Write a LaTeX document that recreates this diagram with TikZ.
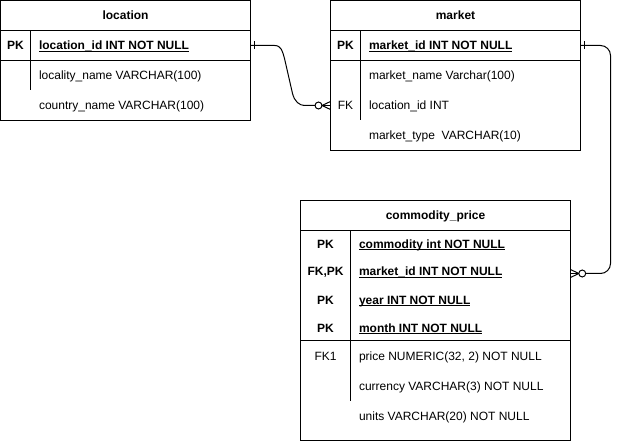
\documentclass[tikz,border=0pt]{standalone}
\usepackage{fontspec}
\setmainfont{Liberation Sans}
\newcommand\ulfld[1]{\setbox0\hbox{#1}\rlap{\rule[-1.6pt]{\wd0}{0.6pt}}\box0}
\begin{document}
\begin{tikzpicture}[x=0.75pt,y=-0.75pt,line width=0.75pt,
  every node/.style={font=\fontsize{9}{11}\selectfont},
  tbl/.style={draw,anchor=north west,inner sep=0pt,outer sep=0pt},
  hdr/.style={font=\fontsize{9}{11}\selectfont\bfseries,inner sep=0pt,anchor=base},
  keycol/.style={inner sep=0pt,anchor=base},
  keyb/.style={inner sep=0pt,anchor=base,font=\fontsize{9}{11}\selectfont\bfseries},
  fld/.style={inner sep=0pt,anchor=base west},
  fldb/.style={inner sep=0pt,anchor=base west,font=\fontsize{9}{11}\selectfont\bfseries},
  conn/.style={line width=0.75pt}]
\useasboundingbox (0,0) rectangle (620,441);
% ---------- location ----------
\node[tbl,minimum width=187.5pt,minimum height=90pt] (loc) at (0.5,0.5) {};
\draw (0.5,30.5) -- (250.5,30.5);
\draw (0.5,60.5) -- (250.5,60.5);
\draw (30.5,30.5) -- (30.5,90.5);
\node[hdr] (loch) at (125.5,20) {location};
\node[keyb] (lock1) at (15.5,50) {PK};
\node[fldb] (locf1) at (38.5,50) {\ulfld{location\_id INT NOT NULL}};
\node[fld] (locf2) at (38.5,80) {locality\_name VARCHAR(100)};
\node[fld] (locf3) at (38.5,110) {country\_name VARCHAR(100)};
% ---------- market ----------
\node[tbl,minimum width=187.5pt,minimum height=112.5pt] (mkt) at (330.5,0.5) {};
\draw (330.5,30.5) -- (580.5,30.5);
\draw (330.5,60.5) -- (580.5,60.5);
\draw (360.5,30.5) -- (360.5,120.5);
\node[hdr] (mkth) at (455.5,20) {market};
\node[keyb] (mktk1) at (345.5,50) {PK};
\node[fldb] (mktf1) at (368.5,50) {\ulfld{market\_id INT NOT NULL}};
\node[fld] (mktf2) at (368.5,80) {market\_name Varchar(100)};
\node[keycol] (mktk3) at (345.5,110) {FK};
\node[fld] (mktf3) at (368.5,110) {location\_id INT};
\node[fld] (mktf4) at (368.5,140) {market\_type\ \ VARCHAR(10)};
% ---------- commodity_price ----------
\node[tbl,minimum width=202.5pt,minimum height=180pt] (cp) at (300.5,200.5) {};
\draw (300.5,230.5) -- (570.5,230.5);
\draw (300.5,340.5) -- (570.5,340.5);
\draw (350.5,230.5) -- (350.5,400.5);
\node[hdr] (cph) at (435.5,220) {commodity\_price};
\node[keyb] (cpk1) at (325.5,248) {PK};
\node[fldb] (cpf1) at (358.5,248) {\ulfld{commodity int NOT NULL}};
\node[keyb] (cpk2) at (325.5,276) {FK,PK};
\node[fldb] (cpf2) at (358.5,276) {\ulfld{market\_id INT NOT NULL}};
\node[keyb] (cpk3) at (325.5,304) {PK};
\node[fldb] (cpf3) at (358.5,304) {\ulfld{year INT NOT NULL}};
\node[keyb] (cpk4) at (325.5,332) {PK};
\node[fldb] (cpf4) at (358.5,332) {\ulfld{month INT NOT NULL}};
\node[keycol] (cpk5) at (325.5,360) {FK1};
\node[fld] (cpf5) at (358.5,360) {price NUMERIC(32, 2) NOT NULL};
\node[fld] (cpf6) at (358.5,390) {currency VARCHAR(3) NOT NULL};
\node[fld] (cpf7) at (358.5,420) {units VARCHAR(20) NOT NULL};
% ---------- connector location -> market ----------
\coordinate (c1a) at (loc.east |- 0,45.5);
\coordinate (c1b) at (mkt.west |- 0,105.5);
\draw[conn] (c1a) -- ++(24,0) .. controls +(7,0) and +(-2,-7) .. ++(10,13) -- ++(8,35)
  .. controls +(2,8) and +(-5,0) .. ++(12,12) -- ++(10.5,0);
\draw[conn] ([xshift=3pt]c1a) ++(0,-4) -- ++(0,8);
\draw[conn] ([xshift=-9pt]c1b) circle (2.6pt);
\draw[conn] ([xshift=-6.4pt]c1b) -- ++(6.4pt,3pt);
\draw[conn] ([xshift=-6.4pt]c1b) -- (c1b);
\draw[conn] ([xshift=-6.4pt]c1b) -- ++(6.4pt,-3pt);
% ---------- connector market -> commodity_price ----------
\coordinate (c2a) at (mkt.east |- 0,45.5);
\coordinate (c2b) at (cp.east |- 0,273.5);
\draw[conn,rounded corners=7.5pt] (c2a) -- ++(30,0) |- ([xshift=11.5pt]c2b);
\draw[conn] ([xshift=3pt]c2a) ++(0,-4) -- ++(0,8);
\draw[conn] ([xshift=8.8pt]c2b) circle (2.6pt);
\draw[conn] ([xshift=6.2pt]c2b) -- ++(-6.2pt,3pt);
\draw[conn] ([xshift=6.2pt]c2b) -- (c2b);
\draw[conn] ([xshift=6.2pt]c2b) -- ++(-6.2pt,-3pt);
\end{tikzpicture}
\end{document}
